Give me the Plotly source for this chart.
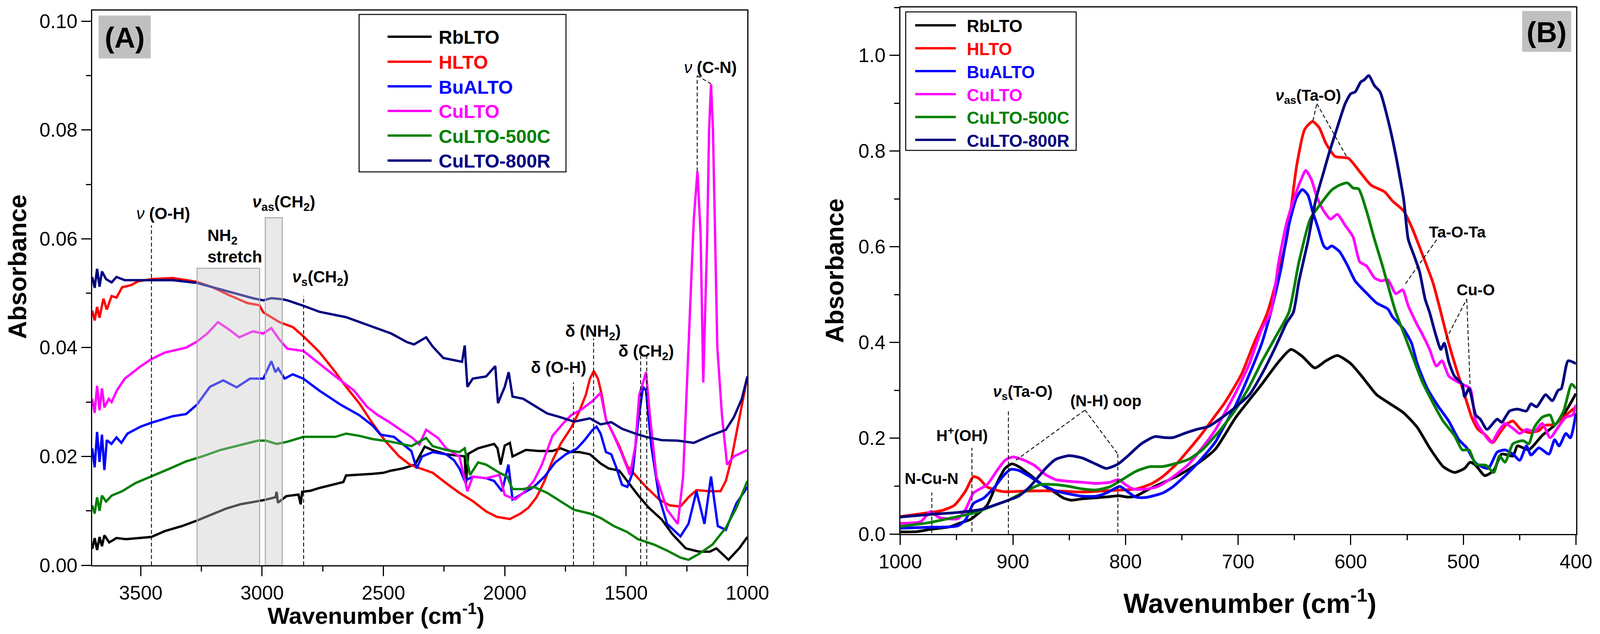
import plotly.graph_objects as go

W, H = 4215, 1623

NAMES = ['RbLTO', 'HLTO', 'BuALTO', 'CuLTO', 'CuLTO-500C', 'CuLTO-800R']
COLORS = ['#000000', '#ff0000', '#0000ff', '#ff00ff', '#008000', '#000080']

# ---- panel A: 3700-1000 cm-1 ----
A_RBLTO_WN = [3700, 3690, 3680, 3670, 3660, 3650, 3630, 3600, 3560, 3500, 3456, 3400, 3330, 3269,
              3200, 3149, 3090, 3039, 2990, 2945, 2940, 2935, 2900, 2850, 2841, 2835, 2800, 2764,
              2710, 2665, 2654, 2600, 2545, 2500, 2468, 2420, 2391, 2370, 2352, 2340, 2330, 2300,
              2242, 2200, 2165, 2160, 2150, 2110, 2044, 2030, 2017, 2000, 1979, 1968, 1913, 1860,
              1803, 1770, 1730, 1693, 1649, 1605, 1572, 1528, 1495, 1451, 1407, 1353, 1309, 1254,
              1199, 1155, 1128, 1078, 1034, 1000]
A_RBLTO_ABS = [0.0030, 0.0050, 0.0028, 0.0052, 0.0035, 0.0055, 0.0042, 0.0050, 0.0048, 0.0050,
               0.0052, 0.0063, 0.0072, 0.0082, 0.0094, 0.0104, 0.0112, 0.0116, 0.0120, 0.0125,
               0.0135, 0.0115, 0.0127, 0.0130, 0.0112, 0.0135, 0.0137, 0.0142, 0.0148, 0.0153,
               0.0165, 0.0166, 0.0168, 0.0170, 0.0174, 0.0178, 0.0182, 0.0185, 0.0200, 0.0210,
               0.0218, 0.0212, 0.0204, 0.0202, 0.0200, 0.0150, 0.0205, 0.0215, 0.0223, 0.0215,
               0.0185, 0.0220, 0.0225, 0.0200, 0.0212, 0.0210, 0.0210, 0.0215, 0.0208, 0.0208,
               0.0204, 0.0187, 0.0178, 0.0174, 0.0155, 0.0129, 0.0106, 0.0084, 0.0057, 0.0031,
               0.0025, 0.0025, 0.0031, 0.0010, 0.0031, 0.0052]

A_HLTO_WN = [3700, 3690, 3680, 3670, 3654, 3640, 3620, 3600, 3577, 3540, 3511, 3456, 3368, 3269,
             3204, 3138, 3061, 3011, 2995, 2929, 2874, 2830, 2764, 2698, 2654, 2600, 2545, 2490,
             2435, 2391, 2374, 2324, 2297, 2242, 2187, 2132, 2077, 2033, 1979, 1935, 1902, 1869,
             1836, 1803, 1770, 1726, 1693, 1666, 1649, 1633, 1616, 1600, 1583, 1561, 1528, 1495,
             1462, 1418, 1364, 1320, 1276, 1243, 1210, 1155, 1111, 1089, 1067, 1045, 1023, 1000]
A_HLTO_ABS = [0.0468, 0.0450, 0.0475, 0.0455, 0.0490, 0.0470, 0.0495, 0.0492, 0.0511, 0.0515,
              0.0522, 0.0526, 0.0528, 0.0521, 0.0511, 0.0497, 0.0482, 0.0478, 0.0465, 0.0447,
              0.0438, 0.0421, 0.0392, 0.0355, 0.0328, 0.0298, 0.0261, 0.0227, 0.0200, 0.0185,
              0.0182, 0.0174, 0.0170, 0.0151, 0.0133, 0.0118, 0.0099, 0.0089, 0.0085, 0.0095,
              0.0106, 0.0125, 0.0155, 0.0193, 0.0223, 0.0253, 0.0283, 0.0313, 0.0343, 0.0357,
              0.0343, 0.0313, 0.0268, 0.0249, 0.0219, 0.0182, 0.0166, 0.0144, 0.0121, 0.0110,
              0.0108, 0.0125, 0.0138, 0.0136, 0.0136, 0.0155, 0.0193, 0.0246, 0.0294, 0.0347]

A_BUALTO_WN = [3700, 3690, 3680, 3670, 3660, 3650, 3640, 3621, 3600, 3580, 3555, 3500, 3456, 3368,
               3313, 3269, 3215, 3160, 3105, 3050, 2995, 2962, 2945, 2934, 2907, 2874, 2830, 2764,
               2676, 2600, 2545, 2512, 2457, 2385, 2363, 2341, 2297, 2242, 2209, 2187, 2165, 2132,
               2077, 2044, 2011, 1985, 1968, 1924, 1880, 1836, 1792, 1748, 1704, 1671, 1638, 1622,
               1605, 1583, 1561, 1539, 1517, 1495, 1473, 1451, 1430, 1418, 1396, 1364, 1331, 1276,
               1243, 1210, 1177, 1150, 1122, 1089, 1045, 1000]
A_BUALTO_ABS = [0.0215, 0.0180, 0.0245, 0.0190, 0.0240, 0.0175, 0.0230, 0.0223, 0.0235, 0.0225,
                0.0242, 0.0255, 0.0262, 0.0274, 0.0278, 0.0295, 0.0328, 0.0340, 0.0327, 0.0343,
                0.0343, 0.0375, 0.0355, 0.0362, 0.0343, 0.0351, 0.0343, 0.0321, 0.0295, 0.0276,
                0.0257, 0.0240, 0.0236, 0.0210, 0.0178, 0.0200, 0.0208, 0.0204, 0.0193, 0.0178,
                0.0155, 0.0163, 0.0160, 0.0155, 0.0136, 0.0185, 0.0121, 0.0133, 0.0144, 0.0163,
                0.0189, 0.0204, 0.0214, 0.0230, 0.0249, 0.0255, 0.0242, 0.0208, 0.0204, 0.0178,
                0.0148, 0.0144, 0.0170, 0.0261, 0.0328, 0.0321, 0.0219, 0.0125, 0.0076, 0.0053,
                0.0076, 0.0136, 0.0076, 0.0163, 0.0072, 0.0065, 0.0114, 0.0144]

A_CULTO_WN = [3700, 3690, 3680, 3670, 3660, 3650, 3632, 3620, 3599, 3566, 3500, 3456, 3401, 3313,
              3269, 3226, 3182, 3138, 3094, 3039, 2995, 2962, 2929, 2896, 2830, 2764, 2709, 2665,
              2621, 2567, 2523, 2479, 2424, 2380, 2352, 2324, 2275, 2242, 2187, 2154, 2132, 2077,
              2022, 2000, 1957, 1924, 1880, 1847, 1803, 1759, 1726, 1682, 1638, 1605, 1583, 1550,
              1517, 1484, 1462, 1446, 1430, 1418, 1402, 1375, 1331, 1287, 1265, 1250, 1237, 1221,
              1206, 1193, 1182, 1166, 1158, 1150, 1142, 1134, 1124, 1105, 1084, 1056, 1000]
A_CULTO_ABS = [0.0306, 0.0280, 0.0330, 0.0285, 0.0325, 0.0290, 0.0306, 0.0300, 0.0321, 0.0343,
               0.0366, 0.0379, 0.0391, 0.0400, 0.0411, 0.0426, 0.0447, 0.0434, 0.0419, 0.0430,
               0.0426, 0.0436, 0.0415, 0.0398, 0.0394, 0.0370, 0.0351, 0.0336, 0.0321, 0.0291,
               0.0276, 0.0264, 0.0247, 0.0234, 0.0222, 0.0249, 0.0234, 0.0215, 0.0200, 0.0136,
               0.0163, 0.0160, 0.0166, 0.0129, 0.0121, 0.0133, 0.0155, 0.0185, 0.0238, 0.0261,
               0.0276, 0.0287, 0.0302, 0.0317, 0.0268, 0.0238, 0.0204, 0.0166, 0.0219, 0.0313,
               0.0336, 0.0355, 0.0276, 0.0163, 0.0102, 0.0076, 0.0163, 0.0330, 0.0465, 0.0636,
               0.0724, 0.0609, 0.0336, 0.0600, 0.0800, 0.0884, 0.0800, 0.0600, 0.0400, 0.0276,
               0.0185, 0.0200, 0.0212]

A_C500_WN = [3700, 3690, 3680, 3670, 3660, 3643, 3620, 3577, 3522, 3456, 3379, 3313, 3247, 3171,
             3094, 3017, 2984, 2940, 2896, 2830, 2764, 2698, 2654, 2600, 2545, 2468, 2385, 2324,
             2297, 2242, 2187, 2165, 2143, 2110, 2077, 2022, 1990, 1968, 1924, 1880, 1825, 1770,
             1715, 1649, 1605, 1550, 1495, 1451, 1385, 1331, 1276, 1243, 1199, 1144, 1089, 1045,
             1000]
A_C500_ABS = [0.0110, 0.0095, 0.0125, 0.0100, 0.0128, 0.0117, 0.0128, 0.0136, 0.0151, 0.0163,
              0.0178, 0.0191, 0.0200, 0.0212, 0.0221, 0.0229, 0.0229, 0.0223, 0.0227, 0.0236,
              0.0236, 0.0236, 0.0242, 0.0238, 0.0232, 0.0227, 0.0219, 0.0234, 0.0219, 0.0212,
              0.0208, 0.0215, 0.0166, 0.0189, 0.0185, 0.0170, 0.0163, 0.0140, 0.0140, 0.0144,
              0.0133, 0.0118, 0.0102, 0.0095, 0.0087, 0.0072, 0.0061, 0.0048, 0.0038, 0.0027,
              0.0014, 0.0010, 0.0021, 0.0038, 0.0069, 0.0106, 0.0155]

A_C800_WN = [3700, 3690, 3680, 3670, 3660, 3643, 3620, 3600, 3566, 3456, 3368, 3269, 3204, 3116,
             3039, 2995, 2962, 2918, 2896, 2830, 2764, 2654, 2545, 2468, 2402, 2374, 2324, 2297,
             2253, 2209, 2176, 2165, 2154, 2132, 2077, 2039, 2028, 2000, 1984, 1968, 1924, 1880,
             1825, 1770, 1715, 1649, 1605, 1561, 1517, 1462, 1418, 1353, 1287, 1221, 1155, 1089,
             1056, 1023, 1000]
A_C800_ABS = [0.0530, 0.0510, 0.0545, 0.0512, 0.0540, 0.0526, 0.0520, 0.0530, 0.0524, 0.0524,
              0.0524, 0.0519, 0.0511, 0.0500, 0.0491, 0.0487, 0.0491, 0.0489, 0.0487, 0.0477,
              0.0466, 0.0456, 0.0438, 0.0426, 0.0410, 0.0406, 0.0419, 0.0402, 0.0381, 0.0377,
              0.0374, 0.0404, 0.0328, 0.0343, 0.0347, 0.0366, 0.0298, 0.0328, 0.0355, 0.0310,
              0.0306, 0.0294, 0.0279, 0.0272, 0.0264, 0.0270, 0.0259, 0.0263, 0.0251, 0.0242,
              0.0236, 0.0230, 0.0229, 0.0225, 0.0238, 0.0249, 0.0272, 0.0306, 0.0347]

# ---- panel B: 1000-400 cm-1 ----
B_RBLTO_WN = [1000, 985, 973, 956, 946, 938, 933, 923, 914, 907, 901, 895, 885, 874, 862, 855, 848,
              838, 826, 814, 806, 798, 791, 779, 767, 755, 744, 732, 720, 702, 679, 664, 653, 643,
              632, 622, 612, 600, 589, 577, 565, 553, 541, 530, 518, 508, 499, 494, 489, 481, 473,
              466, 456, 452, 442, 430, 419, 409, 400]
B_RBLTO_ABS = [0.0043, 0.005, 0.0099, 0.015, 0.0236, 0.030, 0.0386, 0.060, 0.107, 0.137, 0.1466,
               0.141, 0.124, 0.103, 0.0857, 0.075, 0.0707, 0.0737, 0.0758, 0.078, 0.080, 0.0771,
               0.079, 0.094, 0.107, 0.120, 0.135, 0.154, 0.178, 0.244, 0.313, 0.360, 0.3857, 0.371,
               0.347, 0.362, 0.373, 0.356, 0.326, 0.291, 0.272, 0.253, 0.223, 0.180, 0.141, 0.1286,
               0.137, 0.150, 0.1435, 0.122, 0.133, 0.167, 0.163, 0.184, 0.176, 0.206, 0.227, 0.257,
               0.2935]

B_HLTO_WN = [1000, 980, 963, 952, 942, 935, 930, 923, 909, 885, 862, 838, 814, 791, 777, 767, 755,
             744, 732, 720, 712, 697, 686, 674, 657, 648, 641, 634, 628, 622, 614, 608, 602, 591,
             582, 570, 563, 553, 546, 537, 527, 520, 513, 506, 499, 492, 487, 480, 474, 468, 462,
             456, 449, 442, 433, 428, 419, 409, 400]
B_HLTO_ABS = [0.0364, 0.0429, 0.049, 0.060, 0.090, 0.120, 0.1157, 0.0986, 0.0887, 0.090, 0.090,
              0.0878, 0.0908, 0.094, 0.105, 0.120, 0.1457, 0.1757, 0.210, 0.2485, 0.274, 0.334,
              0.3985, 0.463, 0.616, 0.770, 0.845, 0.862, 0.849, 0.816, 0.789, 0.787, 0.785, 0.754,
              0.729, 0.715, 0.696, 0.675, 0.642, 0.588, 0.525, 0.463, 0.3985, 0.343, 0.291, 0.240,
              0.2185, 0.206, 0.191, 0.210, 0.229, 0.236, 0.2185, 0.212, 0.216, 0.227, 0.229,
              0.2485, 0.2657]

B_BUALTO_WN = [1000, 975, 949, 942, 935, 926, 916, 909, 902, 895, 885, 874, 862, 850, 838, 826, 817,
               805, 799, 791, 782, 767, 758, 744, 732, 720, 714, 702, 690, 679, 671, 662, 655, 648,
               643, 638, 634, 629, 624, 621, 617, 610, 603, 596, 586, 577, 567, 563, 553, 546, 541,
               532, 522, 513, 504, 497, 489, 478, 470, 463, 456, 450, 444, 440, 433, 424, 419, 415,
               409, 405, 400]
B_BUALTO_ABS = [0.012, 0.014, 0.017, 0.030, 0.064, 0.075, 0.0986, 0.120, 0.135, 0.133, 0.120,
                0.103, 0.090, 0.0836, 0.079, 0.079, 0.0857, 0.0994, 0.090, 0.0771, 0.0763, 0.0857,
                0.0986, 0.1286, 0.1585, 0.193, 0.2185, 0.270, 0.334, 0.3985, 0.463, 0.5536, 0.645,
                0.7036, 0.720, 0.708, 0.675, 0.639, 0.602, 0.596, 0.602, 0.590, 0.5617, 0.5284,
                0.5034, 0.4826, 0.470, 0.454, 0.428, 0.3985, 0.356, 0.304, 0.2657, 0.236, 0.197,
                0.180, 0.148, 0.137, 0.171, 0.1757, 0.167, 0.154, 0.184, 0.165, 0.180, 0.167,
                0.197, 0.184, 0.210, 0.201, 0.253]

B_CULTO_WN = [1000, 982, 973, 966, 949, 942, 935, 923, 914, 907, 900, 890, 881, 871, 862, 850, 838,
              826, 814, 806, 800, 793, 784, 772, 760, 744, 732, 720, 714, 702, 690, 679, 671, 664,
              657, 650, 644, 640, 635, 630, 624, 618, 612, 605, 598, 592, 586, 579, 573, 567, 560,
              554, 549, 541, 537, 530, 524, 519, 513, 506, 501, 494, 489, 482, 475, 469, 463, 456,
              450, 444, 437, 430, 423, 416, 409, 403, 400]
B_CULTO_ABS = [0.0223, 0.0257, 0.047, 0.035, 0.032, 0.0514, 0.0857, 0.103, 0.133, 0.154, 0.161,
               0.154, 0.1435, 0.124, 0.1136, 0.110, 0.108, 0.1058, 0.108, 0.1136, 0.103, 0.094,
               0.0934, 0.0986, 0.1157, 0.1457, 0.180, 0.2185, 0.244, 0.296, 0.356, 0.4285, 0.463,
               0.5686, 0.6496, 0.7036, 0.7411, 0.7597, 0.741, 0.7036, 0.675, 0.658, 0.668, 0.645,
               0.621, 0.5686, 0.5603, 0.5353, 0.529, 0.531, 0.502, 0.5103, 0.477, 0.437, 0.420,
               0.3857, 0.351, 0.362, 0.330, 0.319, 0.313, 0.304, 0.236, 0.210, 0.191, 0.214, 0.231,
               0.2207, 0.210, 0.2185, 0.214, 0.231, 0.201, 0.223, 0.244, 0.2485, 0.270]

B_C500_WN = [1000, 975, 949, 933, 919, 904, 890, 876, 862, 850, 838, 826, 814, 803, 791, 779, 767,
             758, 744, 732, 720, 714, 702, 690, 679, 667, 655, 646, 636, 627, 617, 610, 603, 598,
             593, 586, 579, 572, 565, 560, 553, 544, 537, 527, 518, 508, 501, 495, 489, 480, 473,
             468, 463, 456, 447, 442, 437, 430, 423, 419, 411, 404, 400]
B_C500_ABS = [0.0159, 0.0236, 0.0364, 0.045, 0.0578, 0.0707, 0.0878, 0.103, 0.103, 0.0994, 0.094,
              0.0921, 0.0986, 0.1136, 0.1307, 0.1405, 0.141, 0.1457, 0.156, 0.1757, 0.206, 0.223,
              0.261, 0.3085, 0.360, 0.411, 0.463, 0.5686, 0.658, 0.689, 0.7187, 0.729, 0.7337,
              0.723, 0.721, 0.675, 0.616, 0.5617, 0.503, 0.463, 0.420, 0.364, 0.321, 0.274, 0.236,
              0.206, 0.1757, 0.1757, 0.1457, 0.1435, 0.1286, 0.163, 0.150, 0.1885, 0.195, 0.1885,
              0.223, 0.244, 0.2485, 0.227, 0.257, 0.313, 0.304]

B_C800_WN = [1000, 975, 949, 928, 904, 895, 885, 871, 862, 850, 838, 826, 817, 807, 798, 786, 774,
             765, 758, 748, 737, 726, 714, 702, 690, 679, 667, 657, 651, 646, 638, 631, 624, 619,
             612, 605, 600, 596, 591, 588, 584, 579, 574, 567, 560, 553, 549, 544, 539, 534, 530,
             525, 520, 517, 513, 508, 501, 499, 495, 489, 485, 479, 470, 466, 459, 452, 444, 440,
             435, 427, 421, 416, 413, 407, 400]
B_C800_ABS = [0.0356, 0.0407, 0.045, 0.0514, 0.0707, 0.079, 0.0986, 0.137, 0.156, 0.1637, 0.1585,
              0.1457, 0.137, 0.1457, 0.163, 0.1885, 0.2035, 0.2014, 0.2014, 0.210, 0.2185, 0.225,
              0.244, 0.2657, 0.291, 0.334, 0.390, 0.441, 0.463, 0.5284, 0.6122, 0.6988, 0.757,
              0.798, 0.8493, 0.899, 0.920, 0.924, 0.945, 0.949, 0.958, 0.937, 0.924, 0.866, 0.791,
              0.6988, 0.616, 0.583, 0.549, 0.491, 0.463, 0.420, 0.3857, 0.3985, 0.360, 0.330,
              0.313, 0.287, 0.304, 0.2485, 0.240, 0.2185, 0.240, 0.2335, 0.257, 0.261, 0.257,
              0.272, 0.2657, 0.291, 0.2785, 0.300, 0.304, 0.362, 0.356]

A_SERIES = [(A_RBLTO_WN, A_RBLTO_ABS), (A_HLTO_WN, A_HLTO_ABS), (A_BUALTO_WN, A_BUALTO_ABS),
            (A_CULTO_WN, A_CULTO_ABS), (A_C500_WN, A_C500_ABS), (A_C800_WN, A_C800_ABS)]
B_SERIES = [(B_RBLTO_WN, B_RBLTO_ABS), (B_HLTO_WN, B_HLTO_ABS), (B_BUALTO_WN, B_BUALTO_ABS),
            (B_CULTO_WN, B_CULTO_ABS), (B_C500_WN, B_C500_ABS), (B_C800_WN, B_C800_ABS)]

FONT = 'Liberation Sans, Arial, sans-serif'


def px(x, y):
    """pixel position in the picture -> paper coordinates"""
    return x / W, 1 - y / H


fig = go.Figure()

for (wn, ab), name, col in zip(A_SERIES, NAMES, COLORS):
    fig.add_trace(go.Scatter(x=wn, y=ab, mode='lines', name=name, showlegend=False,
                             line=dict(color=col, width=6), xaxis='x', yaxis='y'))

for (wn, ab), name, col in zip(B_SERIES, NAMES, COLORS):
    fig.add_trace(go.Scatter(x=wn, y=ab, mode='lines', name=name, showlegend=False,
                             line=dict(color=col, width=7, shape='spline', smoothing=0.6),
                             xaxis='x2', yaxis='y2'))

axis_common = dict(showline=True, linecolor='black', linewidth=2.5, mirror=True,
                   ticks='outside', ticklen=25, tickwidth=2.5, tickcolor='black',
                   showgrid=False, zeroline=False, automargin=False,
                   tickfont=dict(family=FONT, size=50, color='black'))
minor_common = dict(ticklen=13, tickwidth=2.5, ticks='outside', tickcolor='black', showgrid=False)

# no fixed width/height: the figure fills the browser window
fig.update_layout(
    template='none',
    autosize=True,
    margin=dict(l=0, r=0, t=0, b=0, pad=0, autoexpand=False),
    paper_bgcolor='white', plot_bgcolor='white',
    showlegend=False,
    font=dict(family=FONT, color='black'),
    xaxis=dict(domain=[243 / W, 1969 / W], range=[3700, 1000], tick0=1000, dtick=500,
               minor=dict(dtick=250, **minor_common), anchor='y', **axis_common),
    yaxis=dict(domain=[1 - 1447 / H, 1 - 26.6 / H], range=[0, 0.102], dtick=0.02,
               tickformat='.2f', minor=dict(dtick=0.01, **minor_common),
               anchor='x', **axis_common),
    xaxis2=dict(domain=[2371.7 / W, 4151.8 / W], range=[1000, 400], tick0=400, dtick=100,
                minor=dict(dtick=50, **minor_common), anchor='y2', **axis_common),
    yaxis2=dict(domain=[1 - 1367 / H, 1 - 19.4 / H], range=[0, 1.1], dtick=0.2,
                tickformat='.1f', minor=dict(dtick=0.1, **minor_common),
                anchor='x2', **axis_common),
)

shapes = []
annots = []

# gray bands over NH2 stretch and vas(CH2) in panel A
for x0, x1, top in [(3268, 3010, 0.0546), (2987, 2917, 0.0639)]:
    shapes.append(dict(type='rect', xref='x', yref='y', x0=x0, x1=x1, y0=0, y1=top,
                       fillcolor='rgba(200,200,200,0.4)', line=dict(color='#a8a8a8', width=2.5),
                       layer='above'))

dash = dict(color='black', width=2.2, dash='10px,6px')


def dline(pts, xr, yr):
    for (xa, ya), (xb, yb) in zip(pts[:-1], pts[1:]):
        shapes.append(dict(type='line', xref=xr, yref=yr, x0=xa, y0=ya, x1=xb, y1=yb,
                           line=dash, layer='above'))


for x, top in [(3456, 0.0625), (2829, 0.0495), (1717, 0.0336), (1634, 0.0417),
               (1440, 0.0385), (1415, 0.0385)]:
    dline([(x, 0), (x, top)], 'x', 'y')
dline([(1207, 0.0724), (1207, 0.0900), (1150, 0.0885)], 'x', 'y')

dline([(972, 0.002), (972, 0.0866)], 'x2', 'y2')
dline([(936.4, 0.0043), (936.4, 0.18)], 'x2', 'y2')
dline([(904, 0), (904, 0.259)], 'x2', 'y2')
dline([(897.4, 0.154), (836, 0.259), (806.8, 0.167), (806.8, 0)], 'x2', 'y2')
dline([(633.6, 0.8636), (630.1, 0.8993), (603.4, 0.7872)], 'x2', 'y2')
dline([(523.7, 0.6149), (552, 0.5212)], 'x2', 'y2')
dline([(515.4, 0.407), (497, 0.4911), (494.1, 0.3128)], 'x2', 'y2')

lab_a = dict(family=FONT, size=42, color='black')
for text, x, y in [('<i>ν</i> <b>(O-H)</b>', 3408, 0.0647),
                   ('<b><i>ν</i><sub>as</sub>(CH<sub>2</sub>)</b>', 2910, 0.0666),
                   ('<b><i>ν</i><sub>s</sub>(CH<sub>2</sub>)</b>', 2760, 0.0528),
                   ('<b>δ (O-H)</b>', 1778, 0.0364),
                   ('<b>δ (NH<sub>2</sub>)</b>', 1637, 0.0428),
                   ('<b>δ (CH<sub>2</sub>)</b>', 1418, 0.0392),
                   ('<i>ν</i> <b>(C-N)</b>', 1152, 0.0915)]:
    annots.append(dict(text=text, x=x, y=y, xref='x', yref='y', showarrow=False,
                       font=lab_a, xanchor='center', yanchor='middle'))
annots.append(dict(text='<b>NH<sub>2</sub><br>stretch</b>', x=3228, y=0.0587, xref='x', yref='y',
                   showarrow=False, font=lab_a, xanchor='left', yanchor='middle', align='left'))

lab_b = dict(family=FONT, size=40, color='black')
for text, x, y in [('<b>N-Cu-N</b>', 972, 0.1157),
                   ('<b>H<sup>+</sup>(OH)</b>', 945, 0.208),
                   ('<b><i>ν</i><sub>s</sub>(Ta-O)</b>', 891, 0.2957),
                   ('<b>(N-H) oop</b>', 817.5, 0.2785),
                   ('<b><i>ν</i><sub>as</sub>(Ta-O)</b>', 637.7, 0.914),
                   ('<b>Ta-O-Ta</b>', 505.4, 0.6307),
                   ('<b>Cu-O</b>', 488.9, 0.510)]:
    annots.append(dict(text=text, x=x, y=y, xref='x2', yref='y2', showarrow=False,
                       font=lab_b, xanchor='center', yanchor='middle'))

# panel tags
for tag, (x0, y0, x1, y1) in [('(A)', (259.6, 39.8, 397, 149.5)),
                              ('(B)', (4010, 28, 4139, 132.7))]:
    p0 = px(x0, y1)
    p1 = px(x1, y0)
    shapes.append(dict(type='rect', xref='paper', yref='paper', x0=p0[0], y0=p0[1],
                       x1=p1[0], y1=p1[1], fillcolor='#c0c0c0', line=dict(width=0)))
    c = px((x0 + x1) / 2, (y0 + y1) / 2 + 2)
    annots.append(dict(text='<b>%s</b>' % tag, x=c[0], y=c[1], xref='paper', yref='paper',
                       showarrow=False, font=dict(family=FONT, size=74, color='black'),
                       xanchor='center', yanchor='middle'))

# legends drawn by hand (long line samples, coloured labels)
for box, (lx0, lx1, tx), rows, fsize in [
        ((946, 37, 1491, 440), (1021, 1137, 1154), [94, 158, 221, 284, 347, 411], 48),
        ((2386, 30.6, 2835, 385), (2411, 2518, 2545), [64.8, 123.5, 182, 241, 299.5, 358], 44)]:
    p0 = px(box[0], box[3])
    p1 = px(box[2], box[1])
    shapes.append(dict(type='rect', xref='paper', yref='paper', x0=p0[0], y0=p0[1],
                       x1=p1[0], y1=p1[1], fillcolor='white', line=dict(color='black', width=2.5),
                       layer='above'))
    for row, name, col in zip(rows, NAMES, COLORS):
        a = px(lx0, row)
        b = px(lx1, row)
        shapes.append(dict(type='line', xref='paper', yref='paper', x0=a[0], y0=a[1],
                           x1=b[0], y1=b[1], line=dict(color=col, width=6), layer='above'))
        t = px(tx, row + 2)
        annots.append(dict(text='<b>%s</b>' % name, x=t[0], y=t[1], xref='paper', yref='paper',
                           showarrow=False, font=dict(family=FONT, size=fsize, color=col),
                           xanchor='left', yanchor='middle'))

# axis titles
for text, (x, y), size, ang in [
        ('<b>Wavenumber (cm<sup>-1</sup>)</b>', (990, 1572), 60, 0),
        ('<b>Wavenumber (cm<sup>-1</sup>)</b>', (3293, 1540), 70, 0),
        ('<b>Absorbance</b>', (46, 683), 64, -90),
        ('<b>Absorbance</b>', (2199, 693), 64, -90)]:
    p = px(x, y)
    annots.append(dict(text=text, x=p[0], y=p[1], xref='paper', yref='paper', showarrow=False,
                       font=dict(family=FONT, size=size, color='black'), textangle=ang,
                       xanchor='center', yanchor='middle'))

fig.update_layout(shapes=shapes, annotations=annots)

fix_page = """
document.documentElement.style.margin = '0';
document.body.style.margin = '0';
document.body.style.overflow = 'hidden';
var gd = document.getElementById('{plot_id}');
gd.style.width = '100vw';
gd.style.height = '100vh';
Plotly.Plots.resize(gd);
"""
fig.write_html("out.html", default_width='100vw', default_height='100vh',
               config={'responsive': True, 'displayModeBar': False},
               post_script=fix_page)
